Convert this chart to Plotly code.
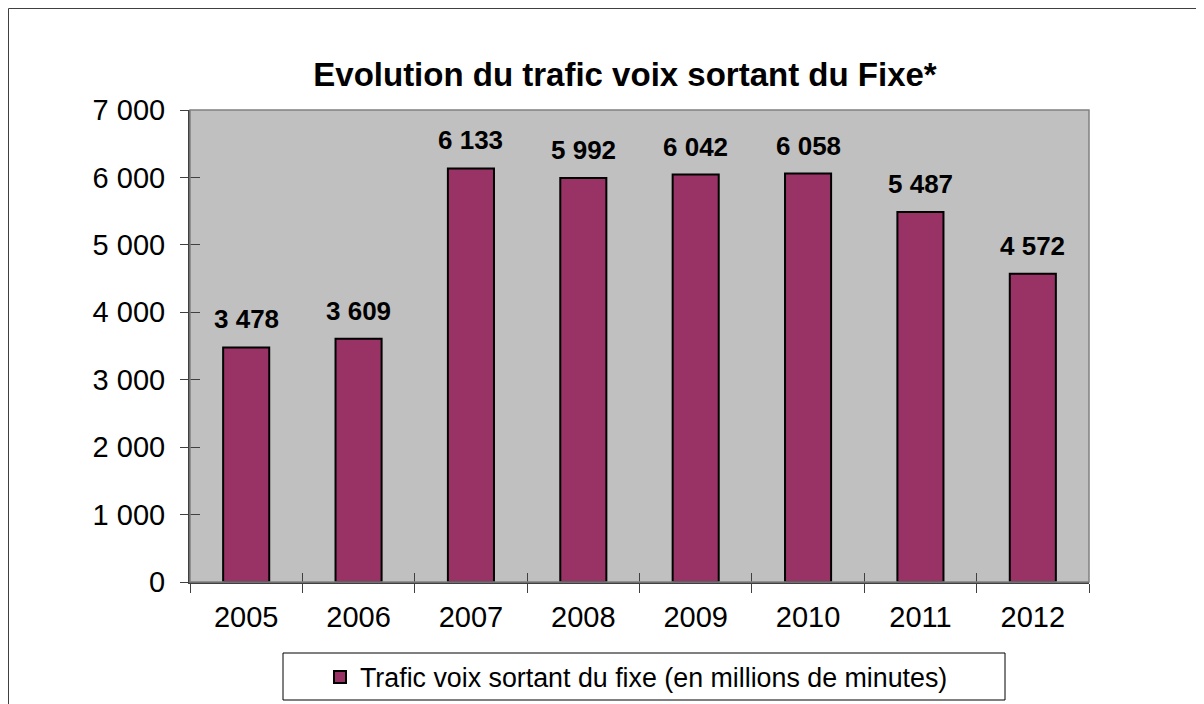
import plotly.graph_objects as go

# data
years = ["2005", "2006", "2007", "2008", "2009", "2010", "2011", "2012"]
traffic = [3478, 3609, 6133, 5992, 6042, 6058, 5487, 4572]
y_ticks = [0, 1000, 2000, 3000, 4000, 5000, 6000, 7000]

series_name = "Trafic voix sortant du fixe (en millions de minutes)"
title_text = "<b>Evolution du trafic voix sortant du Fixe*</b>"

FONT = "Arial, Liberation Sans, sans-serif"
BAR_COLOR = "#993366"

# page body adds 8px around the figure, so the figure is 8px smaller
W, H = 1196, 696
L, R, T, B = 182, 115, 102, 122
PW, PH = W - L - R, H - T - B


def fmt(v):
    # french style thousands separator
    return f"{v:,}".replace(",", " ")


def px(fx):
    return (fx - L) / PW


def py(fy):
    return (H - B - fy) / PH


fig = go.Figure()

fig.add_trace(
    go.Bar(
        x=years,
        y=traffic,
        name=series_name,
        marker=dict(color=BAR_COLOR, line=dict(color="black", width=2)),
        hoverinfo="x+y",
    )
)

# empty trace so the overlay axes (inner half of the crossing ticks) get drawn
fig.add_trace(go.Scatter(x=[], y=[], xaxis="x2", yaxis="y2",
                         showlegend=False, hoverinfo="skip"))

# value labels above each bar (category index on the x axis)
for i, val in enumerate(traffic):
    fig.add_annotation(
        x=i, y=val,
        text="<b>" + fmt(val) + "</b>",
        showarrow=False,
        yanchor="bottom",
        yshift=11,
        font=dict(family=FONT, size=26, color="black"),
    )

# outer frame of the chart
fig.add_shape(type="rect", xref="paper", yref="paper",
              x0=px(0.5), x1=px(W + 50), y0=py(H + 50), y1=py(0.5),
              line=dict(color="#404040", width=1), layer="below")

# plot area border (gray)
fig.add_shape(type="rect", xref="paper", yref="paper",
              x0=0, x1=1, y0=0, y1=1,
              line=dict(color="#808080", width=1.5), layer="above")

# legend box
fig.add_shape(type="rect", xref="paper", yref="paper",
              x0=px(275), x1=px(997), y0=py(692), y1=py(645),
              line=dict(color="black", width=1))

fig.update_layout(
    width=W,
    height=H,
    margin=dict(l=L, r=R, t=T, b=B),
    paper_bgcolor="white",
    plot_bgcolor="#C0C0C0",
    font=dict(family=FONT, color="black"),
    title=dict(
        text=title_text,
        x=617 / W, xref="container", xanchor="center",
        y=1 - 66 / H, yref="container", yanchor="middle",
        font=dict(family=FONT, size=33, color="black"),
    ),
    bargap=0.59,
    showlegend=True,
    legend=dict(
        orientation="h",
        xref="container", yref="container",
        x=312 / W, xanchor="left",
        y=1 - 669 / H, yanchor="middle",
        bgcolor="rgba(0,0,0,0)",
        borderwidth=0,
        font=dict(family=FONT, size=26.8, color="black"),
    ),
    separators=", ",
)

fig.update_layout(
    xaxis=dict(
        type="category",
        range=[-0.5, len(years) - 0.5],
        showgrid=False,
        showline=True, linecolor="#404040", linewidth=1.5,
        ticks="outside", ticklen=9, tickcolor="#404040", tickwidth=1,
        tickson="boundaries",
        tickangle=0,
        ticklabelstandoff=8,
        tickfont=dict(family=FONT, size=29, color="black"),
    ),
    yaxis=dict(
        range=[0, 7000],
        tickvals=y_ticks,
        ticktext=[fmt(v) for v in y_ticks],
        showgrid=False,
        zeroline=False,
        showline=True, linecolor="#404040", linewidth=2,
        ticks="outside", ticklen=8, tickcolor="#404040", tickwidth=1,
        ticklabelstandoff=9,
        tickfont=dict(family=FONT, size=29, color="black"),
    ),
    xaxis2=dict(
        overlaying="x", anchor="y2", side="bottom",
        range=[-0.5, len(years) - 0.5],
        tickvals=[i - 0.5 for i in range(len(years) + 1)],
        showticklabels=False, showgrid=False, zeroline=False, showline=False,
        ticks="inside", ticklen=9, tickcolor="#404040", tickwidth=1,
    ),
    yaxis2=dict(
        overlaying="y", anchor="x2", side="left",
        range=[0, 7000],
        tickvals=y_ticks,
        showticklabels=False, showgrid=False, zeroline=False, showline=False,
        ticks="inside", ticklen=10, tickcolor="#404040", tickwidth=1,
    ),
)

fig.write_html("out.html")
